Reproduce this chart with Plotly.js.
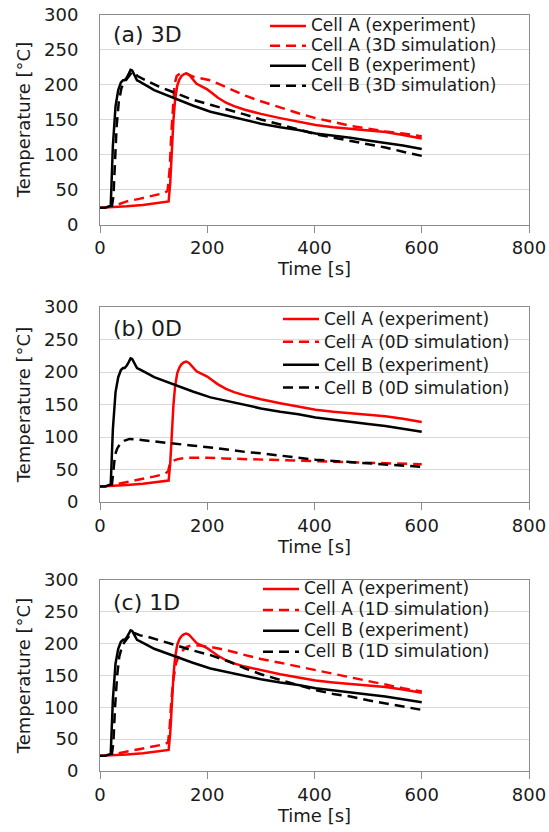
<!DOCTYPE html>
<html>
<head>
<meta charset="utf-8">
<script src="https://cdn.plot.ly/plotly-3.0.1.min.js"></script>
<style>
html,body{margin:0;padding:0;background:#fff;}
#chart{width:549px;height:832px;}
</style>
</head>
<body>
<div id="chart"></div>
<script>
// ---- Experimental data (shared by all panels) ----
var tA_exp = [0, 20, 50, 80, 100, 120, 128, 131, 134, 137, 140, 144, 148, 152, 157, 161, 166, 170, 175, 180, 185, 190, 195, 200, 210, 220, 235, 250, 270, 300, 336, 370, 402, 435, 467, 500, 532, 565, 600];
var A_exp  = [24, 24.5, 26, 28, 30, 32, 33, 60, 110, 150, 178, 198, 207, 212, 215, 216, 214, 210, 205, 201, 199, 197, 195, 193, 187, 181, 174, 169, 164, 158, 152, 147, 142, 139, 137, 134, 132, 128, 123];
var tB_exp = [0, 10, 20, 24, 29, 34, 39, 43, 46, 50, 54, 57, 60, 62, 65, 69, 74, 78, 90, 101, 120, 140, 173, 206, 240, 271, 300, 336, 370, 402, 435, 467, 500, 532, 565, 600];
var B_exp  = [24, 24, 27, 112, 169, 192, 203, 206, 206, 210, 216, 221, 220, 217, 211, 206, 204, 202, 197, 192, 186, 180, 170, 161, 155, 149, 144, 139, 135, 130, 127, 124, 120, 117, 113, 108];

// ---- (a) 3D simulation ----
var tA_3D = [35, 50, 75, 100, 120, 126, 130, 133, 136, 139, 143, 150, 158, 165, 175, 190, 206, 230, 250, 271, 300, 336, 370, 402, 435, 467, 500, 532, 565, 600];
var A_3D  = [29, 33, 37, 41, 45, 48, 80, 130, 170, 200, 212, 216, 217, 214, 211, 209, 206, 198, 191, 184, 176, 167, 159, 152, 146, 141, 137, 133, 130, 126];
var tB_3D = [22, 25, 28, 31, 35, 40, 45, 50, 55, 60, 65, 70, 88, 110, 140, 170, 206, 240, 271, 300, 336, 370, 402, 435, 467, 500, 532, 565, 600];
var B_3D  = [25, 40, 90, 140, 175, 195, 203, 208, 214, 218, 216, 212, 205, 197, 188, 179, 171, 164, 157, 150, 143, 136, 129, 124, 119, 115, 110, 104, 98];

// ---- (b) 0D simulation ----
var tA_0D = [35, 50, 75, 100, 120, 127, 130, 135, 145, 160, 180, 200, 230, 271, 300, 336, 370, 402, 450, 500, 550, 600];
var A_0D  = [28, 31, 35, 39, 43, 47, 58, 63, 66, 68, 68.5, 68, 67, 66, 65, 64, 63, 62, 61, 60, 59, 58];
var tB_0D = [22, 25, 28, 32, 38, 45, 55, 70, 100, 140, 170, 206, 240, 271, 300, 336, 370, 402, 435, 467, 500, 532, 565, 600];
var B_0D  = [25, 50, 72, 82, 90, 94, 97, 96, 93, 89, 87, 84, 80, 77, 75, 71, 68, 65, 63, 62, 60, 58, 56, 54];

// ---- (c) 1D simulation ----
var tA_1D = [35, 60, 90, 120, 127, 130, 133, 137, 142, 148, 155, 162, 170, 185, 206, 240, 271, 300, 336, 370, 402, 435, 467, 500, 532, 565, 600];
var A_1D  = [28, 32, 37, 42, 45, 70, 110, 145, 170, 183, 190, 195, 197, 197, 195, 189, 182, 176, 170, 164, 159, 153, 148, 142, 136, 130, 125];
var tB_1D = [22, 25, 28, 32, 36, 42, 48, 54, 60, 66, 75, 88, 110, 140, 170, 206, 240, 271, 300, 336, 370, 402, 435, 467, 500, 532, 565, 600];
var B_1D  = [25, 45, 100, 150, 180, 198, 205, 212, 218, 216, 213, 211, 205, 198, 190, 182, 172, 161, 152, 143, 135, 127, 121, 117, 111, 106, 101, 96];

var panelLabels = ['(a) 3D', '(b) 0D', '(c) 1D'];
var simNames = ['3D', '0D', '1D'];
var xTicks = [0, 200, 400, 600, 800];
var yTicks = [0, 50, 100, 150, 200, 250, 300];

var FONT = '"DejaVu Sans", sans-serif';
var TXT = '#1a1a1a';
var RED = '#ff0000', BLK = '#000000';
var LW = 2.5, DASH = '10px,6px';

// legend entries: the text is drawn at 17px while the row pitch follows the (smaller) legend font size
function legName(s) { return '<span style="font-size:17px">' + s + '</span>'; }

var sims = [[tA_3D, A_3D, tB_3D, B_3D], [tA_0D, A_0D, tB_0D, B_0D], [tA_1D, A_1D, tB_1D, B_1D]];
var traces = [];
for (var i = 0; i < 3; i++) {
  var xa = i === 0 ? 'x' : 'x' + (i + 1);
  var ya = i === 0 ? 'y' : 'y' + (i + 1);
  var lg = i === 0 ? 'legend' : 'legend' + (i + 1);
  var s = sims[i];
  traces.push({x: tA_exp, y: A_exp, xaxis: xa, yaxis: ya, legend: lg, mode: 'lines', name: legName('Cell A (experiment)'), line: {color: RED, width: LW}});
  traces.push({x: s[0], y: s[1], xaxis: xa, yaxis: ya, legend: lg, mode: 'lines', name: legName('Cell A (' + simNames[i] + ' simulation)'), line: {color: RED, width: LW, dash: DASH}});
  traces.push({x: tB_exp, y: B_exp, xaxis: xa, yaxis: ya, legend: lg, mode: 'lines', name: legName('Cell B (experiment)'), line: {color: BLK, width: LW}});
  traces.push({x: s[2], y: s[3], xaxis: xa, yaxis: ya, legend: lg, mode: 'lines', name: legName('Cell B (' + simNames[i] + ' simulation)'), line: {color: BLK, width: LW, dash: DASH}});
}

var H = 832;
// panel pixel extents (top of 300, bottom at 0)
var panels = [[14.5, 224.5], [307, 502], [580, 771]];
var legendTops = [11, 302.5, 573.5];
var legendLeft = [265, 278, 258];
var legendSize = [13, 15.3, 13.8];

function xaxis(i) {
  return {
    domain: [0, 1], range: [0, 800], tickvals: xTicks, ticktext: xTicks.map(String),
    anchor: i === 0 ? 'y' : 'y' + (i + 1),
    showgrid: false, zeroline: false, showline: true, mirror: true, linecolor: '#8c8c8c', linewidth: 1,
    ticks: 'outside', ticklen: 7, tickcolor: '#8c8c8c', tickwidth: 1,
    tickfont: {family: FONT, size: 18, color: TXT},
    title: {text: 'Time [s]', font: {family: FONT, size: 18, color: TXT}, standoff: 0}
  };
}
function yaxis(i) {
  var p = panels[i];
  return {
    domain: [1 - p[1] / H, 1 - p[0] / H], range: [0, 300], tickvals: yTicks,
    anchor: i === 0 ? 'x' : 'x' + (i + 1),
    showgrid: true, gridcolor: '#d9d9d9', gridwidth: 1, zeroline: false,
    showline: true, mirror: true, linecolor: '#8c8c8c', linewidth: 1,
    ticks: 'outside', ticklen: 17, tickcolor: 'rgba(0,0,0,0)',
    tickfont: {family: FONT, size: 18, color: TXT},
    title: {text: 'Temperature [°C]', font: {family: FONT, size: 18, color: TXT}, standoff: 8}
  };
}
function legend(i) {
  return {
    x: (legendLeft[i] - 100) / 429, xanchor: 'left',
    y: 1 - legendTops[i] / H, yanchor: 'top',
    bgcolor: 'rgba(0,0,0,0)', borderwidth: 0,
    font: {family: FONT, size: legendSize[i], color: TXT},
    itemwidth: 36,
    tracegroupgap: 0
  };
}

var layout = {
  width: 549, height: 832,
  margin: {l: 100, r: 20, t: 0, b: 0},
  paper_bgcolor: '#ffffff', plot_bgcolor: '#ffffff',
  showlegend: true,
  xaxis: xaxis(0), yaxis: yaxis(0), legend: legend(0),
  xaxis2: xaxis(1), yaxis2: yaxis(1), legend2: legend(1),
  xaxis3: xaxis(2), yaxis3: yaxis(2), legend3: legend(2),
  annotations: panelLabels.map(function (t, i) {
    return {
      text: t, showarrow: false,
      xref: (i === 0 ? 'x' : 'x' + (i + 1)) + ' domain', yref: (i === 0 ? 'y' : 'y' + (i + 1)) + ' domain',
      x: 0.025, y: [0.905, 0.89, 0.88][i], xanchor: 'left', yanchor: 'middle',
      font: {family: FONT, size: 22, color: TXT}
    };
  })
};

Plotly.newPlot('chart', traces, layout, {displayModeBar: false, staticPlot: true});
</script>
</body>
</html>
